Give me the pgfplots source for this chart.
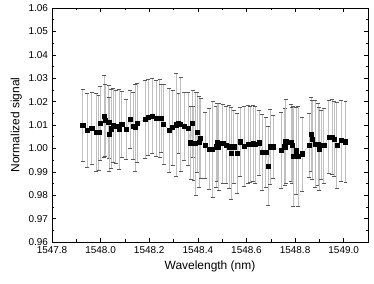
\documentclass[border=0pt]{standalone}
\usepackage{fontspec}
\setmainfont{Liberation Sans}
\usepackage{pgfplots}
\pgfplotsset{compat=1.18}
\usepackage{pgfplotstable}
\pgfplotstableread{
x y err
1547.9264 1.0099 0.0155
1547.9456 1.0079 0.0158
1547.9635 1.0087 0.0154
1547.9813 1.0069 0.0167
1547.9923 1.0068 0.0161
1547.9992 1.0108 0.0158
1548.0157 1.0139 0.0175
1548.0198 1.0120 0.0155
1548.0335 1.0113 0.0157
1548.0363 1.0062 0.0158
1548.0431 1.0084 0.0170
1548.0527 1.0098 0.0159
1548.0624 1.0094 0.0156
1548.0761 1.0081 0.0171
1548.0871 1.0104 0.0140
1548.1049 1.0082 0.0128
1548.1214 1.0124 0.0125
1548.1352 1.0095 0.0143
1548.1420 1.0089 0.0186
1548.1516 1.0109 0.0168
1548.1846 1.0125 0.0167
1548.1956 1.0132 0.0163
1548.2121 1.0139 0.0160
1548.2286 1.0129 0.0163
1548.2423 1.0129 0.0166
1548.2492 1.0128 0.0146
1548.2588 1.0104 0.0171
1548.2821 1.0078 0.0178
1548.2959 1.0089 0.0160
1548.3096 1.0101 0.0219
1548.3206 1.0109 0.0128
1548.3288 1.0104 0.0200
1548.3440 1.0095 0.0147
1548.3604 1.0085 0.0157
1548.3701 1.0024 0.0154
1548.3783 1.0106 0.0143
1548.3824 1.0021 0.0157
1548.3907 1.0021 0.0221
1548.3975 1.0068 0.0170
1548.4044 1.0028 0.0193
1548.4113 1.0042 0.0171
1548.4305 1.0012 0.0141
1548.4470 0.9998 0.0174
1548.4607 0.9998 0.0205
1548.4745 1.0007 0.0171
1548.4786 1.0028 0.0167
1548.4854 1.0007 0.0185
1548.5019 1.0021 0.0168
1548.5157 1.0014 0.0164
1548.5294 1.0007 0.0178
1548.5376 0.9978 0.0197
1548.5473 1.0007 0.0157
1548.5624 0.9978 0.0171
1548.5747 1.0029 0.0148
1548.5898 1.0011 0.0171
1548.6063 1.0018 0.0165
1548.6159 1.0018 0.0163
1548.6269 1.0022 0.0164
1548.6365 1.0017 0.0164
1548.6530 1.0024 0.0140
1548.6654 0.9984 0.0161
1548.6791 0.9984 0.0151
1548.6887 0.9925 0.0168
1548.6984 1.0007 0.0161
1548.7093 1.0007 0.0136
1548.7423 0.9991 0.0163
1548.7574 1.0007 0.0163
1548.7616 1.0029 0.0180
1548.7849 1.0025 0.0164
1548.7890 1.0012 0.0163
1548.7918 0.9967 0.0214
1548.8041 0.9990 0.0185
1548.8137 0.9967 0.0214
1548.8302 0.9977 0.0158
1548.8577 1.0012 0.0137
1548.8659 1.0062 0.0158
1548.8714 1.0038 0.0168
1548.8838 1.0019 0.0187
1548.8948 1.0019 0.0175
1548.9003 0.9999 0.0178
1548.9071 1.0015 0.0148
1548.9181 1.0012 0.0160
1548.9387 1.0049 0.0157
1548.9525 1.0049 0.0160
1548.9621 1.0041 0.0162
1548.9717 1.0015 0.0184
1548.9896 1.0034 0.0173
1549.0074 1.0029 0.0173
}\datatable
\begin{document}
\begin{tikzpicture}
\path[use as bounding box] (-52bp,-42bp) rectangle (322bp,242bp);
\begin{axis}[
  width=316bp, height=234bp, scale only axis,
  xmin=1547.8, xmax=1549.1, ymin=0.96, ymax=1.06,
  xtick={1547.8,1548.0,1548.2,1548.4,1548.6,1548.8,1549.0},
  minor x tick num=1,
  ytick={0.96,0.97,0.98,0.99,1.00,1.01,1.02,1.03,1.04,1.05,1.06},
  minor y tick num=1,
  tick align=inside,
  major tick length=4bp, minor tick length=2.5bp,
  every tick/.style={black, line width=0.5pt},
  axis line style={line width=0.7pt},
  /pgf/number format/assume math mode=true,
  xticklabel style={yshift=-1.5bp, /pgf/number format/.cd, fixed, fixed zerofill, precision=1, 1000 sep={}},
  yticklabel style={xshift=-0.5bp, /pgf/number format/.cd, fixed, fixed zerofill, precision=2},
  tick label style={font=\fontsize{10}{12}\selectfont},
  label style={font=\fontsize{12}{14}\selectfont},
  xlabel={Wavelength (nm)},
  ylabel={Normalized signal},
  scaled x ticks=false, scaled y ticks=false,
]
\addplot[
  color=gray!60, line width=0.4pt,
  mark=square*, mark size=2.1pt,
  mark options={black, fill=black, solid},
  error bars/.cd, y dir=both, y explicit,
  error bar style={gray!50, line width=0.7pt},
  error mark options={rotate=90, mark size=2pt, gray!70!black, line width=0.5pt},
] table[x=x, y=y, y error=err] {\datatable};
\end{axis}
\end{tikzpicture}
\end{document}
